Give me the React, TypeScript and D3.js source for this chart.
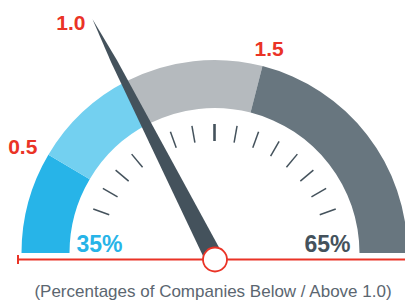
import { useEffect, useRef } from 'react';
import * as d3 from 'd3';

// gauge bands, cumulative share of the half dial (percent)
const bandEnds = [17, 35, 58, 100];
const bandColors = ['#27b4e8', '#73d0f0', '#b5babe', '#68767f'];
// scale values printed at the band boundaries
const boundaryLabels = ['0.5', '1.0', '1.5'];
const boundaryPct = [17, 35, 58];
// share below / above 1.0
const belowPct = 35;
const abovePct = 65;
// inner dial ticks, in percent of the half dial
const tickPct = [11.1, 16.7, 22.2, 27.8, 33.3, 38.9, 44.4, 50, 55.6, 61.1, 66.7, 72.2, 77.8, 83.3, 88.9];
const caption = '(Percentages of Companies Below / Above 1.0)';

const RED = '#ea3326';
const DARK = '#44525c';

export default function App() {
  const svgRef = useRef<SVGSVGElement>(null);
  const width = 405;
  const height = 303;

  useEffect(() => {
    if (!svgRef.current) return;
    const svg = d3.select(svgRef.current);
    svg.selectAll('*').remove();

    const cx = 214.5;
    const cy = 253;
    const outerR = 193;
    const innerR = 145;
    const hub = { x: 215, y: 259.5, r: 12 };

    // percent -> d3 arc angle (0 = up, clockwise)
    const angle = d3.scaleLinear().domain([0, 100]).range([-Math.PI / 2, Math.PI / 2]);
    const polar = (pct: number, r: number, ox = cx, oy = cy) => {
      const a = angle(pct);
      return [ox + r * Math.sin(a), oy - r * Math.cos(a)];
    };

    const g = svg.append('g').attr('transform', `translate(${cx},${cy})`);
    const arc = d3.arc<any>().innerRadius(innerR).outerRadius(outerR);

    bandEnds.forEach((end, i) => {
      const start = i === 0 ? 0 : bandEnds[i - 1];
      g.append('path')
        .attr('d', arc({ startAngle: angle(start), endAngle: angle(end) }) as string)
        .attr('fill', bandColors[i]);
    });

    // ticks
    tickPct.forEach(p => {
      const [x1, y1] = polar(p, 112);
      const [x2, y2] = polar(p, 129);
      svg.append('line')
        .attr('x1', x1).attr('y1', y1).attr('x2', x2).attr('y2', y2)
        .attr('stroke', DARK)
        .attr('stroke-width', p === 50 ? 2.6 : 1.5);
    });

    // boundary labels
    boundaryLabels.forEach((label, i) => {
      const p = boundaryPct[i];
      if (p === belowPct) return; // drawn at the needle tip
      const [ox, oy] = polar(p, outerR);
      const left = p < 50;
      svg.append('text')
        .attr('x', left ? ox - 11 : ox - 8)
        .attr('y', left ? oy - 1 : oy - 10)
        .attr('text-anchor', left ? 'end' : 'start')
        .text(label)
        .style('font-family', '"Liberation Sans", Arial, sans-serif')
        .style('font-weight', '700')
        .style('font-size', '21px')
        .style('fill', RED);
    });

    // base line
    svg.append('line')
      .attr('x1', 18).attr('y1', hub.y).attr('x2', width).attr('y2', hub.y)
      .attr('stroke', RED).attr('stroke-width', 2);
    svg.append('line')
      .attr('x1', 18).attr('y1', hub.y - 4.5).attr('x2', 18).attr('y2', hub.y + 4.5)
      .attr('stroke', RED).attr('stroke-width', 2);

    // needle
    const needleLen = 270;
    const profile: [number, number][] = [[0, 9.3], [222, 3.1], [needleLen, 0]];
    const a = angle(belowPct);
    const dir = [Math.sin(a), -Math.cos(a)];
    const nrm = [Math.cos(a), Math.sin(a)];
    const pts: [number, number][] = [];
    profile.forEach(([d, w]) => pts.push([hub.x + dir[0] * d + nrm[0] * w, hub.y + dir[1] * d + nrm[1] * w]));
    profile.slice().reverse().forEach(([d, w]) => pts.push([hub.x + dir[0] * d - nrm[0] * w, hub.y + dir[1] * d - nrm[1] * w]));
    svg.append('path')
      .attr('d', d3.line()(pts) + 'Z')
      .attr('fill', DARK);

    const tip = [hub.x + dir[0] * needleLen, hub.y + dir[1] * needleLen];
    svg.append('text')
      .attr('x', tip[0] - 7)
      .attr('y', tip[1] + 11)
      .attr('text-anchor', 'end')
      .text(boundaryLabels[boundaryPct.indexOf(belowPct)])
      .style('font-family', '"Liberation Sans", Arial, sans-serif')
      .style('font-weight', '700')
      .style('font-size', '21px')
      .style('fill', RED);

    svg.append('circle')
      .attr('cx', hub.x).attr('cy', hub.y).attr('r', hub.r)
      .attr('fill', '#fff').attr('stroke', RED).attr('stroke-width', 1.8);

    // percentages
    svg.append('text')
      .attr('x', cx - innerR + 7).attr('y', cy - 1)
      .text(`${belowPct}%`)
      .style('font-family', '"Liberation Sans", Arial, sans-serif')
      .style('font-weight', '700')
      .style('font-size', '23px')
      .style('fill', bandColors[0]);
    svg.append('text')
      .attr('x', cx + innerR - 9).attr('y', cy - 1)
      .attr('text-anchor', 'end')
      .text(`${abovePct}%`)
      .style('font-family', '"Liberation Sans", Arial, sans-serif')
      .style('font-weight', '700')
      .style('font-size', '23px')
      .style('fill', DARK);

    svg.append('text')
      .attr('x', 213).attr('y', 297)
      .attr('text-anchor', 'middle')
      .text(caption)
      .style('font-family', '"Liberation Sans", Arial, sans-serif')
      .style('font-size', '17px')
      .style('fill', '#5b6670');
  }, []);

  return (
    <svg
      ref={svgRef}
      width={width}
      height={height}
      style={{ position: 'absolute', left: 0, top: 0, background: '#fff' }}
    />
  );
}
